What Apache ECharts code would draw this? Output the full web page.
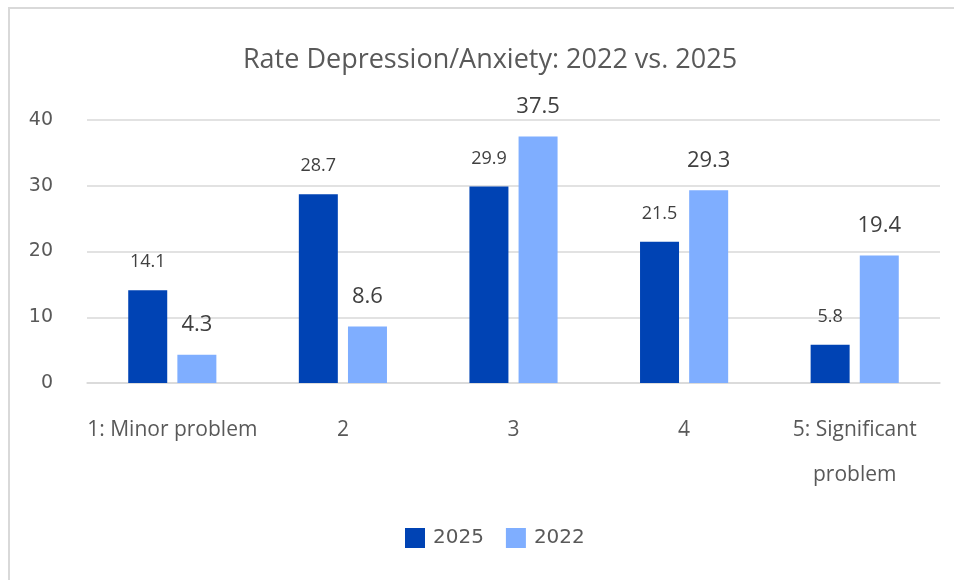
<!DOCTYPE html>
<html>
<head>
<meta charset="utf-8">
<script src="https://cdn.jsdelivr.net/npm/echarts@6/dist/echarts.min.js"></script>
<style>
html,body{margin:0;padding:0;background:#fff;}
#chart{width:954px;height:580px;}
</style>
</head>
<body>
<div id="chart"></div>
<script>
const categories = ['1: Minor problem', '2', '3', '4', '5: Significant\nproblem'];
const values2025 = [14.1, 28.7, 29.9, 21.5, 5.8];
const values2022 = [4.3, 8.6, 37.5, 29.3, 19.4];
const seriesNames = ['2025', '2022'];
const yTicks = { min: 0, max: 40, interval: 10 };
const titleText = 'Rate Depression/Anxiety: 2022 vs. 2025';

const chart = echarts.init(document.getElementById('chart'));
chart.setOption({
  animation: false,
  backgroundColor: '#ffffff',
  graphic: [{
    type: 'rect', silent: true, z: -1,
    shape: { x: 9, y: 8, width: 1000, height: 1000 },
    style: { fill: 'none', stroke: '#d9d9d9', lineWidth: 2 }
  }],
  title: {
    text: titleText,
    left: 485, top: 42, textAlign: 'center',
    textStyle: { fontFamily: 'Open Sans', fontWeight: 'normal', fontSize: 27, color: '#595959' }
  },
  legend: {
    data: seriesNames,
    left: 405, top: 528,
    padding: 0,
    itemWidth: 20, itemHeight: 20, itemGap: 22,
    icon: 'rect',
    textStyle: { fontFamily: 'DejaVu Sans', fontSize: 20, color: '#595959', padding: [0, 0, 0, 3] }
  },
  grid: { left: 87, right: 14, top: 120, bottom: 197, containLabel: false },
  xAxis: {
    type: 'category',
    data: categories,
    axisLine: { lineStyle: { color: '#d9d9d9', width: 1.5 } },
    axisTick: { show: false },
    axisLabel: {
      interval: 0, margin: 25,
      fontFamily: 'Open Sans', fontSize: 21, color: '#595959', lineHeight: 45
    }
  },
  yAxis: {
    type: 'value',
    min: yTicks.min, max: yTicks.max, interval: yTicks.interval,
    axisLine: { show: false },
    axisTick: { show: false },
    splitLine: { lineStyle: { color: '#d9d9d9', width: 1.5 } },
    axisLabel: { margin: 34, fontFamily: 'DejaVu Sans', fontSize: 19, color: '#595959' }
  },
  series: [
    {
      name: seriesNames[0], type: 'bar', data: values2025,
      barWidth: 39, barGap: '26%',
      itemStyle: { color: '#0043B4' },
      label: { show: true, position: 'top', distance: 19,
        fontFamily: 'Open Sans', fontSize: 18, color: '#404040' }
    },
    {
      name: seriesNames[1], type: 'bar', data: values2022,
      barWidth: 39,
      itemStyle: { color: '#7FAEFF' },
      label: { show: true, position: 'top', distance: 19,
        fontFamily: 'Open Sans', fontSize: 22, color: '#404040' }
    }
  ]
});
</script>
</body>
</html>
